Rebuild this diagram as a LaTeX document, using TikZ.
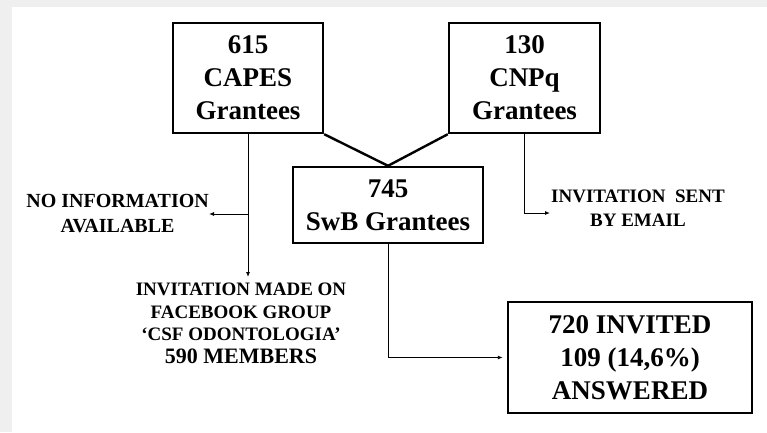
\documentclass[tikz,border=0pt]{standalone}
\usepackage{fontspec}
\setmainfont{Liberation Serif}
\usetikzlibrary{arrows.meta}
\definecolor{frame}{HTML}{EFEFEF}
\definecolor{thin}{HTML}{555555}
\tikzset{
  bigbox/.style={draw=black, line width=2.4pt, inner sep=0pt, align=center,
    font=\bfseries\fontsize{27}{33}\selectfont},
  smalltxt/.style={inner sep=0pt, align=center, font=\bfseries\fontsize{19}{23}\selectfont},
  vline/.style={line width=2.4pt, black},
  flow/.style={thin, line width=0.9pt, -{Latex[length=5pt,width=4pt]}}
}
\begin{document}
\begin{tikzpicture}[x=1pt,y=-1pt]
\useasboundingbox (0,0) rectangle (767,432);
\fill[frame] (0,0) rectangle (767,432);
\fill[white] (12,7) rectangle (767,432);

\node[bigbox, minimum width=150pt, minimum height=110pt] (capes) at (248,78) {615\\CAPES\\Grantees};
\node[bigbox, minimum width=151pt, minimum height=110pt] (cnpq) at (524.5,78) {130\\CNPq\\Grantees};
\node[bigbox, minimum width=190pt, minimum height=76pt] (swb) at (388,205) {745\\SwB Grantees};
\node[bigbox, minimum width=244pt, minimum height=111pt] (res) at (630,357.5) {720 INVITED\\109 (14,6\%)\\ANSWERED};

\node[smalltxt, anchor=east, font=\bfseries\fontsize{20}{25}\selectfont] (noinfo) at (209,214) {NO INFORMATION\\AVAILABLE};
\node[smalltxt, anchor=north, font=\bfseries\fontsize{19}{22.5}\selectfont] (fb) at (241,283) {INVITATION MADE ON\\FACEBOOK GROUP\\`CSF ODONTOLOGIA'\\{\fontsize{22}{22.5}\selectfont 590 MEMBERS}};
\node[smalltxt, anchor=west, font=\bfseries\fontsize{19}{24}\selectfont] (email) at (551,208) {INVITATION\ \ SENT\\BY EMAIL};

\draw[vline] (capes.south east) -- (swb.north);
\draw[vline] (cnpq.south west) -- (swb.north);

\coordinate (cbranch) at (capes.south |- noinfo.east);
\coordinate (cend) at (248,277);
\draw[thin, line width=0.9pt] (capes.south) -- (cbranch);
\draw[flow] (cbranch) -- (cend);
\draw[flow] (cbranch) -- (noinfo.east);

\coordinate (ebend) at (524.5,213);
\coordinate (eend) at (550,213);
\draw[flow] (cnpq.south) -- (ebend) -- (eend);

\coordinate (rbend) at (swb.south |- res.west);
\draw[flow, shorten >=4pt] (swb.south) -- (rbend) -- (res.west);
\end{tikzpicture}
\end{document}
